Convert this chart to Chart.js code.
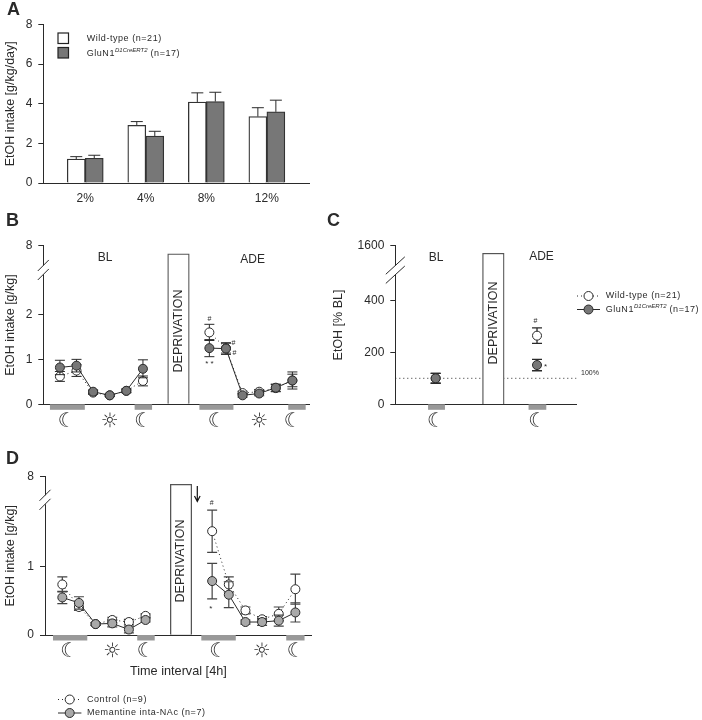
<!DOCTYPE html>
<html lang="en">
<head>
    <meta charset="UTF-8">
    <title>EtOH intake panels</title>
    <script src="https://cdn.jsdelivr.net/npm/chart.js"></script>
    <style>
        body { margin: 0; background: #fff; width: 702px; height: 720px; overflow: hidden; position: relative; }
        canvas { position: absolute; }
        #chartA { left: 0; top: 0; }
        #chartB { left: 0; top: 210px; }
        #chartC { left: 320px; top: 210px; }
        #chartD { left: 0; top: 445px; }
    </style>
</head>
<body>
    <canvas id="chartA" width="320" height="210"></canvas>
    <canvas id="chartB" width="320" height="235"></canvas>
    <canvas id="chartC" width="382" height="235"></canvas>
    <canvas id="chartD" width="320" height="275"></canvas>

    <script>
        // Panel A
        const concentrations = ['2%', '4%', '8%', '12%'];
        const concentrationPos = [0, 1, 2, 3];
        const aWildType = [1.21, 2.91, 4.09, 3.35];
        const aWildTypeErr = [0.12, 0.19, 0.46, 0.45];
        const aGluN1 = [1.25, 2.37, 4.11, 3.59];
        const aGluN1Err = [0.15, 0.24, 0.47, 0.59];
        const aTickValues = [0, 2, 4, 6, 8];

        // Panel B (4h intervals, the gap is the deprivation phase)
        const intervals = [0, 1, 2, 3, 4, 5, 6, 7, 8, 9, 10, 11, 12, 13, 14];
        const bWildType = [0.62, 0.75, 0.26, 0.2, 0.3, 0.52, null, null, null, 1.6, 1.25, 0.25, 0.28, 0.36, 0.53];
        const bWildTypeErr = [0.11, 0.13, 0.04, 0.02, 0.04, 0.11, null, null, null, 0.18, 0.11, 0.04, 0.05, 0.08, 0.14];
        const bGluN1 = [0.82, 0.86, 0.28, 0.2, 0.3, 0.79, null, null, null, 1.25, 1.24, 0.2, 0.24, 0.37, 0.53];
        const bGluN1Err = [0.16, 0.14, 0.04, 0.02, 0.04, 0.2, null, null, null, 0.19, 0.13, 0.04, 0.05, 0.08, 0.19];
        const bTickValues = [0, 1, 2, 3.53];
        const bTickLabels = ['0', '1', '2', '8'];

        // Panel C
        const cIntervals = [0, 6];
        const cWildType = [100, 264];
        const cWildTypeErr = [19, 30];
        const cGluN1 = [100, 151];
        const cGluN1Err = [19, 22];
        const cTickValues = [0, 200, 400, 610];
        const cTickLabels = ['0', '200', '400', '1600'];
        const cBaseline = [100, 100];

        // Panel D
        const dControl = [0.74, 0.41, 0.16, 0.22, 0.19, 0.28, null, null, null, 1.52, 0.74, 0.36, 0.23, 0.31, 0.67];
        const dControlErr = [0.11, 0.05, 0.02, 0.04, 0.04, 0.03, null, null, null, 0.31, 0.11, 0.05, 0.04, 0.1, 0.22];
        const dMemantine = [0.55, 0.47, 0.16, 0.17, 0.08, 0.22, null, null, null, 0.79, 0.59, 0.19, 0.19, 0.21, 0.33];
        const dMemantineErr = [0.09, 0.09, 0.02, 0.05, 0.05, 0.03, null, null, null, 0.26, 0.19, 0.03, 0.05, 0.08, 0.14];
        const dTickValues = [0, 1, 2.318];
        const dTickLabels = ['0', '1', '8'];

        const FONT = '"Liberation Sans", Arial, sans-serif';
        const INK = '#2a2a2a';
        const DARK_GRAY = '#777';
        const LIGHT_GRAY = '#a9a9a9';
        const STRIP_GRAY = '#999';

        function pairs(xs, ys) {
            return xs.map((x, i) => ({ x: x, y: ys[i] }));
        }

        function drawText(ctx, text, x, y, font, opts) {
            opts = opts || {};
            ctx.save();
            ctx.font = font;
            ctx.fillStyle = opts.color || INK;
            ctx.textAlign = opts.align || 'left';
            ctx.textBaseline = 'middle';
            ctx.letterSpacing = opts.spacing || '0px';
            ctx.translate(x, y);
            if (opts.rotate) ctx.rotate(opts.rotate);
            ctx.fillText(text, 0, 0);
            ctx.restore();
        }

        // Draws "GluN1" + italic superscript + "(n=17)"
        function drawGluLabel(ctx, x, y) {
            const font = '9px ' + FONT;
            drawText(ctx, 'GluN1', x, y, font, { spacing: '0.55px' });
            ctx.font = font;
            ctx.letterSpacing = '0.55px';
            const w1 = ctx.measureText('GluN1').width;
            const supFont = 'italic 6px ' + FONT;
            drawText(ctx, 'D1CreERT2', x + w1, y - 3, supFont);
            ctx.font = supFont;
            ctx.letterSpacing = '0px';
            const w2 = ctx.measureText('D1CreERT2').width;
            drawText(ctx, '(n=17)', x + w1 + w2 + 3, y, font, { spacing: '0.55px' });
            ctx.letterSpacing = '0px';
        }

        function legendMarker(ctx, x0, x1, y, fill, dotted) {
            ctx.save();
            ctx.strokeStyle = INK;
            ctx.lineWidth = 1;
            if (dotted) ctx.setLineDash([1, 3]);
            ctx.beginPath();
            ctx.moveTo(x0, y);
            ctx.lineTo(x1, y);
            ctx.stroke();
            ctx.setLineDash([]);
            ctx.fillStyle = fill;
            ctx.beginPath();
            ctx.arc((x0 + x1) / 2, y, 4.5, 0, Math.PI * 2);
            ctx.fill();
            ctx.stroke();
            ctx.restore();
        }

        // Error bars are drawn right before their own dataset so layering follows the points
        const errorBarsPlugin = {
            id: 'errorBars',
            beforeDatasetDraw(chart, args) {
                const ds = chart.data.datasets[args.index];
                if (!ds.errs) return;
                const ctx = chart.ctx;
                const xs = chart.scales.x, ys = chart.scales.y;
                const capHalf = ds.capHalf || 5;
                ctx.save();
                ctx.strokeStyle = ds.errColor || INK;
                ctx.lineWidth = ds.errWidth || 1;
                ds.data.forEach((p, i) => {
                    if (p.y === null) return;
                    const meta = args.meta.data[i];
                    const px = ds.type === 'bar' ? meta.x : xs.getPixelForValue(p.x);
                    const top = ys.getPixelForValue(p.y + ds.errs[i]);
                    const bottom = ds.upOnly ? ys.getPixelForValue(p.y) : ys.getPixelForValue(p.y - ds.errs[i]);
                    ctx.beginPath();
                    ctx.moveTo(px, bottom);
                    ctx.lineTo(px, top);
                    ctx.moveTo(px - capHalf, top);
                    ctx.lineTo(px + capHalf, top);
                    if (!ds.upOnly) {
                        ctx.moveTo(px - capHalf, bottom);
                        ctx.lineTo(px + capHalf, bottom);
                    }
                    ctx.stroke();
                });
                ctx.restore();
            }
        };

        // Strips under the axis, moon / sun symbols, axis break and free text of a panel
        const panelExtrasPlugin = {
            id: 'panelExtras',
            afterDraw(chart, args, opts) {
                const ctx = chart.ctx;
                const xs = chart.scales.x, ys = chart.scales.y;
                const base = ys.getPixelForValue(0);

                (opts.strips || []).forEach(s => {
                    ctx.fillStyle = opts.stripColor || STRIP_GRAY;
                    const x0 = xs.getPixelForValue(s[0]);
                    const x1 = xs.getPixelForValue(s[1]);
                    ctx.fillRect(x0, base, x1 - x0, 5.5);
                });

                (opts.symbols || []).forEach(s => {
                    drawText(ctx, s[1], xs.getPixelForValue(s[0]), base + opts.symbolGap, '20px "DejaVu Sans"', { align: 'center', color: '#333' });
                });

                if (opts.axisBreak) {
                    const b = opts.axisBreak;
                    const cy = ys.getPixelForValue(b.value);
                    const ax = xs.left;
                    ctx.fillStyle = '#fff';
                    ctx.fillRect(ax - 2, cy - b.gap, 4, b.gap * 2);
                    ctx.strokeStyle = INK;
                    ctx.lineWidth = 1;
                    [-b.gap, b.gap].forEach(off => {
                        ctx.beginPath();
                        ctx.moveTo(ax - b.w, cy + off + b.h);
                        ctx.lineTo(ax + b.w, cy + off - b.h);
                        ctx.stroke();
                    });
                }

                if (opts.deprivation) {
                    drawText(ctx, 'DEPRIVATION', xs.getPixelForValue(opts.deprivation.x), opts.deprivation.y, '12.5px ' + FONT, { align: 'center', rotate: -Math.PI / 2 });
                }

                (opts.texts || []).forEach(t => {
                    drawText(ctx, t.text, t.x, t.y, t.font, t.opts);
                });

                if (opts.draw) opts.draw(ctx);
            }
        };

        Chart.register(errorBarsPlugin, panelExtrasPlugin);

        function yAxis(width, max, tickValues, tickLabels, title, titlePad) {
            return {
                type: 'linear',
                min: 0,
                max: max,
                afterBuildTicks: scale => { scale.ticks = tickValues.map(v => ({ value: v })); },
                afterFit: scale => { scale.width = width; },
                grid: { display: true, drawOnChartArea: false, drawTicks: true, tickLength: 5, color: INK, lineWidth: 1 },
                border: { display: true, color: INK, width: 1 },
                ticks: {
                    color: INK,
                    font: { family: FONT, size: 12 },
                    padding: 6,
                    autoSkip: false,
                    callback: value => tickLabels[tickValues.indexOf(value)]
                },
                title: {
                    display: true,
                    text: title,
                    color: INK,
                    font: { family: FONT, size: 12.5 },
                    padding: { top: titlePad, bottom: 0 }
                }
            };
        }

        function xAxis(height, min, max, extra) {
            return Object.assign({
                type: 'linear',
                offset: false,
                min: min,
                max: max,
                afterBuildTicks: scale => { scale.ticks = []; },
                afterFit: scale => { scale.height = height; },
                grid: { display: false, offset: false, drawTicks: false },
                border: { display: true, color: INK, width: 1 },
                ticks: { display: false }
            }, extra || {});
        }

        function barSeries(xs, ys, errs, fill) {
            return {
                type: 'bar',
                data: pairs(xs, ys),
                errs: errs,
                upOnly: true,
                capHalf: 6,
                backgroundColor: fill,
                borderColor: '#333',
                borderWidth: 1.3,
                barThickness: 18
            };
        }

        function lineSeries(xs, ys, errs, fill, dotted, order, errColor, errWidth, noLine) {
            return {
                type: 'line',
                data: pairs(xs, ys),
                errs: errs,
                errColor: errColor,
                errWidth: errWidth,
                backgroundColor: fill,
                pointBackgroundColor: fill,
                pointBorderColor: INK,
                pointBorderWidth: 1,
                pointRadius: 4.5,
                borderColor: INK,
                borderWidth: 1,
                borderDash: dotted ? [1, 3] : [],
                showLine: !noLine,
                tension: 0,
                clip: false,
                order: order
            };
        }

        function deprivationBar(x, top, thickness) {
            return {
                type: 'bar',
                data: [{ x: x, y: top }],
                backgroundColor: '#fff',
                borderColor: '#555',
                borderWidth: 1.3,
                barThickness: thickness,
                order: 0
            };
        }

        function baseOptions(padding, scales, extras) {
            return {
                responsive: false,
                animation: false,
                devicePixelRatio: 1,
                layout: { padding: padding },
                plugins: {
                    legend: { display: false },
                    tooltip: { enabled: false },
                    panelExtras: extras
                },
                scales: scales
            };
        }

        const MOON = '\u263E';
        const SUN = '\u263C';
        const legendFont = '9px ' + FONT;
        const stars = '7px ' + FONT;
        const heading = 'bold 18px ' + FONT;

        // Panel A
        new Chart(document.getElementById('chartA'), {
            type: 'bar',
            data: {
                datasets: [
                    barSeries(concentrationPos, aWildType, aWildTypeErr, '#fff'),
                    barSeries(concentrationPos, aGluN1, aGluN1Err, DARK_GRAY)
                ]
            },
            options: baseOptions({ top: 24.5, right: 11 }, {
                x: xAxis(27, -0.693, 3.696, {
                    afterBuildTicks: scale => { scale.ticks = concentrationPos.map(v => ({ value: v })); },
                    ticks: {
                        display: true,
                        color: INK,
                        font: { family: FONT, size: 12 },
                        padding: 8,
                        autoSkip: false,
                        maxRotation: 0,
                        callback: value => concentrations[value]
                    }
                }),
                y: yAxis(43.3, 8, aTickValues, aTickValues.map(String), 'EtOH intake [g/kg/day]', 3)
            }, {
                texts: [
                    { text: 'A', x: 7, y: 10, font: heading },
                    { text: 'Wild-type (n=21)', x: 86.7, y: 38.7, font: legendFont, opts: { spacing: '0.55px' } }
                ],
                draw(ctx) {
                    ctx.lineWidth = 1.2;
                    ctx.strokeStyle = '#222';
                    ctx.fillStyle = '#fff';
                    ctx.fillRect(58, 33, 10.5, 10.5);
                    ctx.strokeRect(58, 33, 10.5, 10.5);
                    ctx.fillStyle = DARK_GRAY;
                    ctx.fillRect(58, 47.5, 10.5, 10.5);
                    ctx.strokeRect(58, 47.5, 10.5, 10.5);
                    drawGluLabel(ctx, 86.7, 53.5);
                }
            })
        });

        // Panel B
        new Chart(document.getElementById('chartB'), {
            data: {
                datasets: [
                    deprivationBar(7.14, 3.35, 21.6),
                    lineSeries(intervals, bGluN1, bGluN1Err, DARK_GRAY, false, 1),
                    lineSeries(intervals, bWildType, bWildTypeErr, '#fff', true, 2)
                ]
            },
            options: baseOptions({ top: 35.7, right: 11 }, {
                x: xAxis(40.7, -1, 15),
                y: yAxis(43.3, 3.53, bTickValues, bTickLabels, 'EtOH intake [g/kg]', 3)
            }, {
                strips: [[-0.6, 1.5], [4.5, 5.55], [8.4, 10.45], [13.75, 14.8]],
                symbols: [[0.4, MOON], [3, SUN], [5, MOON], [9.43, MOON], [12, SUN], [14, MOON]],
                symbolGap: 17,
                axisBreak: { value: 2.99, gap: 4.5, w: 5.5, h: 5.5 },
                deprivation: { x: 7.14, y: 121 },
                texts: [
                    { text: 'B', x: 6, y: 11, font: heading },
                    { text: 'BL', x: 105, y: 48, font: '12px ' + FONT, opts: { align: 'center' } },
                    { text: 'ADE', x: 252.7, y: 50, font: '12px ' + FONT, opts: { align: 'center' } },
                    { text: '#', x: 209.5, y: 109, font: stars, opts: { align: 'center' } },
                    { text: '#', x: 233.5, y: 133.5, font: stars, opts: { align: 'center' } },
                    { text: '#', x: 234.5, y: 143.5, font: stars, opts: { align: 'center' } },
                    { text: '* *', x: 209.5, y: 154, font: '8px ' + FONT, opts: { align: 'center' } }
                ]
            })
        });

        // Panel C
        new Chart(document.getElementById('chartC'), {
            data: {
                datasets: [
                    deprivationBar(3.414, 581, 21.6),
                    lineSeries(cIntervals, cGluN1, cGluN1Err, DARK_GRAY, false, 1, INK, 1.3, true),
                    lineSeries(cIntervals, cWildType, cWildTypeErr, '#fff', true, 2, INK, 1.3, true),
                    {
                        type: 'line',
                        data: pairs([-2.39, 8.35], cBaseline),
                        borderColor: INK,
                        borderWidth: 1,
                        borderDash: [1, 3],
                        pointRadius: 0,
                        order: 3
                    }
                ]
            },
            options: baseOptions({ top: 35.7, right: 125.3 }, {
                x: xAxis(40.7, -2.39, 8.35),
                y: yAxis(75.3, 610, cTickValues, cTickLabels, 'EtOH [% BL]', 11.4)
            }, {
                strips: [[-0.45, 0.55], [5.5, 6.55]],
                symbols: [[0, MOON], [6, MOON]],
                symbolGap: 17,
                axisBreak: { value: 516, gap: 4.6, w: 9.5, h: 8.7 },
                deprivation: { x: 3.414, y: 113 },
                texts: [
                    { text: 'C', x: 7, y: 11, font: heading },
                    { text: 'BL', x: 116, y: 48, font: '12px ' + FONT, opts: { align: 'center' } },
                    { text: 'ADE', x: 221.5, y: 47, font: '12px ' + FONT, opts: { align: 'center' } },
                    { text: '#', x: 215.5, y: 111, font: stars, opts: { align: 'center' } },
                    { text: '*', x: 225.5, y: 156.5, font: '8px ' + FONT, opts: { align: 'center' } },
                    { text: '100%', x: 261, y: 163, font: '7px ' + FONT },
                    { text: 'Wild-type (n=21)', x: 285.7, y: 86, font: legendFont, opts: { spacing: '0.55px' } }
                ],
                draw(ctx) {
                    legendMarker(ctx, 257, 280, 86, '#fff', true);
                    legendMarker(ctx, 257, 280, 99.5, DARK_GRAY, false);
                    drawGluLabel(ctx, 285.7, 99.5);
                }
            })
        });

        // Panel D
        new Chart(document.getElementById('chartD'), {
            data: {
                datasets: [
                    deprivationBar(7.13, 2.206, 21.4),
                    lineSeries(intervals, dMemantine, dMemantineErr, LIGHT_GRAY, false, 1, '#444', 1.2),
                    lineSeries(intervals, dControl, dControlErr, '#fff', true, 2, '#444', 1.2)
                ]
            },
            options: baseOptions({ top: 31.7, right: 8.3 }, {
                x: xAxis(85, -1.04, 14.98, {
                    title: {
                        display: true,
                        text: 'Time interval [4h]',
                        color: INK,
                        font: { family: FONT, size: 12.7 },
                        padding: { top: 0, bottom: 41 }
                    }
                }),
                y: yAxis(45, 2.318, dTickValues, dTickLabels, 'EtOH intake [g/kg]', 3)
            }, {
                strips: [[-0.56, 1.5], [4.5, 5.55], [8.35, 10.42], [13.45, 14.55]],
                symbols: [[0.4, MOON], [3, SUN], [5, MOON], [9.35, MOON], [11.98, SUN], [14, MOON]],
                symbolGap: 17,
                axisBreak: { value: 1.98, gap: 4.5, w: 5.5, h: 5.5 },
                deprivation: { x: 7.13, y: 116 },
                texts: [
                    { text: 'D', x: 6, y: 14, font: heading },
                    { text: '#', x: 211.7, y: 58.5, font: stars, opts: { align: 'center' } },
                    { text: '*', x: 210.7, y: 163.5, font: '8px ' + FONT, opts: { align: 'center' } },
                    { text: 'Control (n=9)', x: 87, y: 254.5, font: legendFont, opts: { spacing: '0.55px' } },
                    { text: 'Memantine inta-NAc (n=7)', x: 87, y: 268, font: legendFont, opts: { spacing: '0.55px' } }
                ],
                draw(ctx) {
                    legendMarker(ctx, 58, 81.4, 254.5, '#fff', true);
                    legendMarker(ctx, 58, 81.4, 268, LIGHT_GRAY, false);
                    // arrow above the first interval after deprivation
                    ctx.strokeStyle = '#111';
                    ctx.lineWidth = 1.2;
                    ctx.beginPath();
                    ctx.moveTo(197.3, 41);
                    ctx.lineTo(197.3, 56);
                    ctx.moveTo(194.5, 51);
                    ctx.lineTo(197.3, 56.5);
                    ctx.lineTo(200.1, 51);
                    ctx.stroke();
                }
            })
        });
    </script>
</body>
</html>
